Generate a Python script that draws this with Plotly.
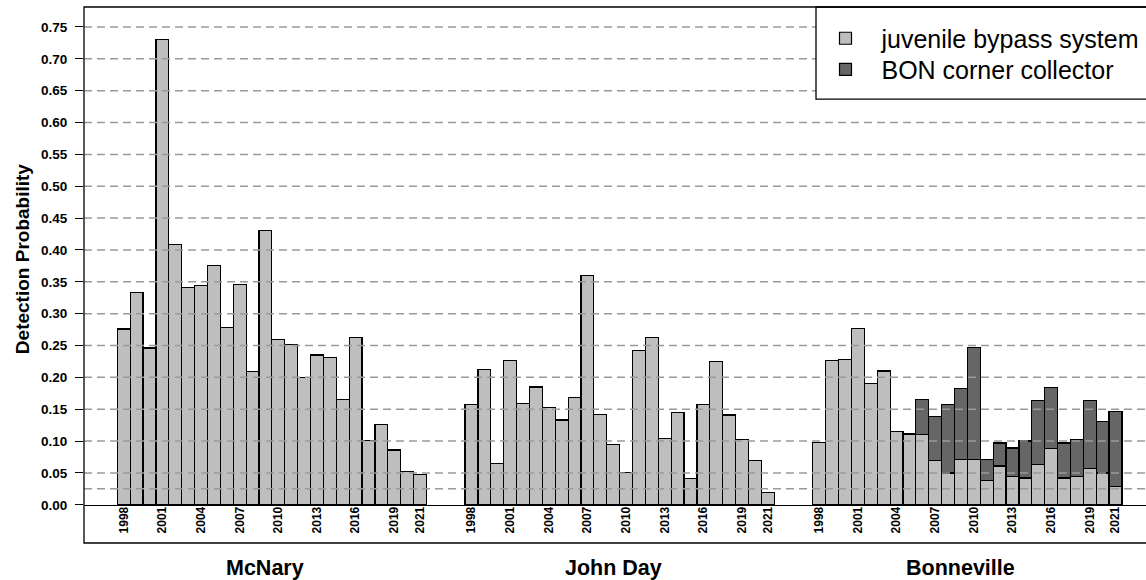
import plotly.graph_objects as go

# ---------------- data ----------------
years = [1998, 1999, 2000, 2001, 2002, 2003, 2004, 2005, 2006, 2007, 2008, 2009,
         2010, 2011, 2012, 2013, 2014, 2015, 2016, 2017, 2018, 2019, 2020, 2021]
year_labels = [1998, 2001, 2004, 2007, 2010, 2013, 2016, 2019, 2021]
dams = ["McNary", "John Day", "Bonneville"]

mcnary_jbs = [0.276, 0.333, 0.246, 0.730, 0.408, 0.341, 0.344, 0.375, 0.278, 0.346, 0.209, 0.431,
              0.259, 0.251, 0.200, 0.235, 0.231, 0.165, 0.262, 0.101, 0.126, 0.086, 0.052, 0.048]
johnday_jbs = [0.158, 0.212, 0.065, 0.227, 0.159, 0.185, 0.153, 0.133, 0.169, 0.360, 0.142, 0.095,
               0.051, 0.242, 0.262, 0.104, 0.145, 0.041, 0.158, 0.225, 0.141, 0.102, 0.070, 0.019]
bonneville_jbs = [0.098, 0.226, 0.228, 0.277, 0.191, 0.210, 0.115, 0.111, 0.110, 0.069, 0.050, 0.071,
                  0.071, 0.038, 0.061, 0.045, 0.042, 0.063, 0.088, 0.042, 0.045, 0.057, 0.050, 0.029]
cc_years = [2006, 2007, 2008, 2009, 2010, 2011, 2012, 2013, 2014, 2015, 2016, 2017,
            2018, 2019, 2020, 2021]
bonneville_cc = [0.055, 0.069, 0.108, 0.111, 0.176, 0.033, 0.036, 0.044, 0.058, 0.101, 0.096, 0.055,
                 0.057, 0.107, 0.081, 0.118]

y_ticks = [0.00, 0.05, 0.10, 0.15, 0.20, 0.25, 0.30, 0.35, 0.40, 0.45, 0.50, 0.55, 0.60, 0.65, 0.70, 0.75]
grid_levels = [0.025] + y_ticks[1:]

# ---------------- layout helpers ----------------
SLOTS = 27  # bar slots per dam group (24 years + 3 spacer slots)


def xpos(group, year):
    return group * SLOTS + (year - years[0]) + 0.5


jbs_series = [mcnary_jbs, johnday_jbs, bonneville_jbs]
jbs_x, jbs_y = [], []
for g, vals in enumerate(jbs_series):
    for yr, v in zip(years, vals):
        jbs_x.append(xpos(g, yr))
        jbs_y.append(v)

cc_x = [xpos(2, yr) for yr in cc_years]

LIGHT = "#BEBEBE"
DARK = "#666666"
FONT = "Liberation Sans, Arial, Helvetica, sans-serif"
PAD = "\u00a0\u00a0\u200a"

fig = go.Figure()
fig.add_trace(go.Bar(
    x=jbs_x, y=jbs_y, width=1.0, name=PAD + "juvenile bypass system", legend="legend",
    marker=dict(color=LIGHT, line=dict(color="black", width=1.2)),
))
fig.add_trace(go.Bar(
    x=cc_x, y=bonneville_cc, width=1.0, name=PAD + "BON corner collector", legend="legend2",
    marker=dict(color=DARK, line=dict(color="black", width=1.2)),
))

# pixel geometry
W, H = 1146, 580
ML, MR, MT, MB = 84, 0, 7, 37.3
px_per_slot = 12.88
x0_px = 117.3
zero_px = 504.5
px_per_unit = 636.7
plot_w = W - ML - MR
plot_h = H - MT - MB

x_min = (ML - x0_px) / px_per_slot
x_max = (W - MR - x0_px) / px_per_slot
y_max = (zero_px - MT) / px_per_unit
y_min = -((H - MB) - zero_px) / px_per_unit
zero_pos = (0 - y_min) / (y_max - y_min)


def px_x(p):
    return (p - ML) / plot_w


def px_y(p):
    return ((H - MB) - p) / plot_h


tickvals, ticktext = [], []
for g in range(len(dams)):
    for yr in year_labels:
        tickvals.append(xpos(g, yr))
        ticktext.append(str(yr))

shapes = []
for lv in grid_levels:
    shapes.append(dict(type="line", xref="paper", yref="y", x0=0, x1=1, y0=lv, y1=lv,
                       line=dict(color="#9A9A9A", width=1.5, dash="8px,5px"), layer="above"))
# legend box (open to the right edge like the original)
shapes.append(dict(type="rect", xref="paper", yref="paper", x0=px_x(816), x1=1.05, y0=px_y(99), y1=1,
                   line=dict(color="black", width=1.3), fillcolor="white", layer="above"))
# outer frame
shapes.append(dict(type="rect", xref="paper", yref="paper", x0=0, x1=1.05, y0=0, y1=1,
                   line=dict(color="black", width=1.3), fillcolor="rgba(0,0,0,0)", layer="above"))

annotations = []
for g, name in enumerate(dams):
    annotations.append(dict(x=g * SLOTS + 11.5, y=px_y(567.5), xref="x", yref="paper",
                            text="<b>%s</b>" % name, showarrow=False, xanchor="center", yanchor="middle",
                            font=dict(family=FONT, size=21.5, color="black")))
annotations.append(dict(x=px_x(22), y=px_y(259), xref="paper", yref="paper",
                        text="<b>Detection Probability</b>", textangle=-90, showarrow=False,
                        xanchor="center", yanchor="middle",
                        font=dict(family=FONT, size=19, color="black")))

leg_common = dict(xanchor="left", yanchor="middle", bgcolor="rgba(0,0,0,0)", borderwidth=0,
                  font=dict(family=FONT, size=25, color="black"), itemclick=False, itemdoubleclick=False)

fig.update_layout(
    width=W, height=H,
    margin=dict(l=ML, r=MR, t=MT, b=MB, pad=0),
    paper_bgcolor="white", plot_bgcolor="white",
    barmode="stack",
    font=dict(family=FONT, color="black"),
    showlegend=True,
    legend=dict(x=px_x(825.5), y=px_y(38.5), **leg_common),
    legend2=dict(x=px_x(825.5), y=px_y(69.5), **leg_common),
    xaxis=dict(range=[x_min, x_max], anchor="free", position=zero_pos,
               tickvals=tickvals, ticktext=ticktext, tickangle=-90, ticks="",
               tickfont=dict(family=FONT, size=12, color="black", weight="bold"),
               showline=True, linecolor="black", linewidth=1.3, showgrid=False, zeroline=False,
               ticklabelstandoff=-4),
    yaxis=dict(range=[y_min, y_max], tickvals=y_ticks, tickformat=".2f",
               ticks="outside", ticklen=8, tickwidth=1.2, tickcolor="black",
               tickfont=dict(family=FONT, size=13.5, color="black", weight="bold"),
               showline=False, showgrid=False, zeroline=False, ticklabelstandoff=5),
    shapes=shapes,
    annotations=annotations,
)

fig.write_html("out.html")
